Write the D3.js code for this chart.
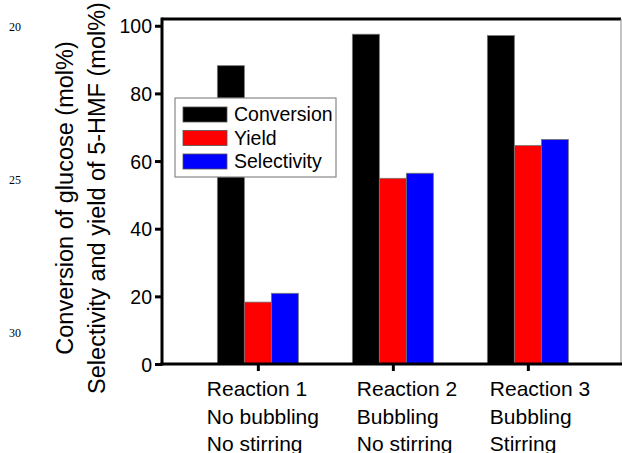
<!DOCTYPE html>
<html>
<head>
<meta charset="utf-8">
<script src="https://cdn.jsdelivr.net/npm/d3@7"></script>
<style>
  body { margin: 0; background: #fff; }
  text { font-family: Arial, "Liberation Sans", sans-serif; }
</style>
</head>
<body>
<svg width="622" height="453"></svg>
<script>
const reactions = [1, 2, 3];
const labelLines = [
  ['Reaction 1', 'No bubbling', 'No stirring'],
  ['Reaction 2', 'Bubbling', 'No stirring'],
  ['Reaction 3', 'Bubbling', 'Stirring']
];
const seriesNames = ['Conversion', 'Yield', 'Selectivity'];
const conversion = [88.2, 97.5, 97.1];
const yieldVals = [18.3, 54.9, 64.6];
const selectivity = [20.9, 56.4, 66.4];
const yTicks = [0, 20, 40, 60, 80, 100];
const lineNumbers = ['20', '25', '30'];

function createViz() {
  const svg = d3.select('svg');
  const colors = ['#000000', '#ff0000', '#0000ff'];
  const series = [conversion, yieldVals, selectivity];
  const left = 162, right = 621, top = 19, bottom = 364;

  const xScale = d3.scaleLinear()
      .domain([0.29, 3.69])
      .range([left, right]);
  const yScale = d3.scaleLinear()
      .domain([0, 102])
      .range([bottom, top]);

  // line numbers from the source page
  svg.selectAll('text.lineno')
      .data(lineNumbers)
      .enter()
      .append('text')
      .attr('class', 'lineno')
      .attr('x', 9)
      .attr('y', (d, i) => 31 + i * 153)
      .style('font-family', '"Liberation Serif", "Times New Roman", serif')
      .style('font-size', '12px')
      .text(d => d);

  // bars
  const barW = xScale(0.2) - xScale(0);
  series.forEach((vals, s) => {
    svg.selectAll('rect.s' + s)
        .data(vals)
        .enter()
        .append('rect')
        .attr('class', 's' + s)
        .attr('x', (d, i) => xScale(reactions[i] - 0.3 + s * 0.2))
        .attr('y', d => yScale(d))
        .attr('width', barW)
        .attr('height', d => yScale(0) - yScale(d))
        .style('fill', colors[s])
        .style('stroke', '#777')
        .style('stroke-width', 0.8);
  });

  // frame
  svg.append('line')
      .attr('x1', left).attr('x2', right)
      .attr('y1', top).attr('y2', top)
      .style('stroke', '#000').style('stroke-width', 3);
  svg.append('line')
      .attr('x1', right).attr('x2', right)
      .attr('y1', top).attr('y2', bottom)
      .style('stroke', '#888').style('stroke-width', 1);

  const yAxis = d3.axisLeft(yScale)
      .tickValues(yTicks)
      .tickSize(7)
      .tickPadding(3)
      .tickFormat(d3.format('d'));
  const yG = svg.append('g')
      .attr('transform', `translate(${left}, 0)`)
      .call(yAxis);
  yG.select('.domain').style('stroke-width', 3).attr('d', `M0,${top - 1.5}V${bottom + 1.5}`);
  yG.selectAll('.tick line').style('stroke-width', 3);
  yG.selectAll('.tick text')
      .style('font-size', '19.5px')
      .style('font-family', 'Arial, "Liberation Sans", sans-serif')
      .attr('dy', '0.36em');

  const xAxis = d3.axisBottom(xScale)
      .tickValues(reactions)
      .tickSize(7)
      .tickFormat('');
  const xG = svg.append('g')
      .attr('transform', `translate(0, ${bottom})`)
      .call(xAxis);
  xG.select('.domain').style('stroke-width', 3).attr('d', `M${left - 1.5},0H${right + 1}`);
  xG.selectAll('.tick line').style('stroke-width', 3);

  // category labels
  const labelShift = [-51, -36, -38];
  const labels = svg.selectAll('text.cat')
      .data(labelLines)
      .enter()
      .append('text')
      .attr('class', 'cat')
      .style('font-size', '21px');
  labels.selectAll('tspan')
      .data((d, i) => d.map(t => ({ t, i })))
      .enter()
      .append('tspan')
      .attr('x', d => xScale(reactions[d.i]) + labelShift[d.i])
      .attr('y', (d, j) => 396 + j * 27.5)
      .text(d => d.t);

  // y title
  const title = svg.append('text')
      .attr('transform', 'translate(81, 198) rotate(-90)')
      .attr('text-anchor', 'middle')
      .style('font-size', '23.5px');
  title.append('tspan').attr('x', 0).attr('y', -8).text('Conversion of glucose (mol%)');
  title.append('tspan').attr('x', 0).attr('y', 24).text('Selectivity and yield of 5-HMF (mol%)');

  // legend
  const legend = svg.append('g').attr('transform', 'translate(175, 98)');
  legend.append('rect')
      .attr('width', 161).attr('height', 79)
      .style('fill', '#fff')
      .style('stroke', '#888')
      .style('stroke-width', 1.2);
  const items = legend.selectAll('g.item')
      .data(seriesNames)
      .enter()
      .append('g')
      .attr('transform', (d, i) => `translate(8, ${9 + i * 23.5})`);
  items.append('rect')
      .attr('width', 44).attr('height', 15)
      .style('fill', (d, i) => colors[i])
      .style('stroke', '#555')
      .style('stroke-width', 0.8);
  items.append('text')
      .attr('x', 51).attr('y', 14)
      .style('font-size', '19.5px')
      .text(d => d);
}

createViz();
</script>
</body>
</html>
